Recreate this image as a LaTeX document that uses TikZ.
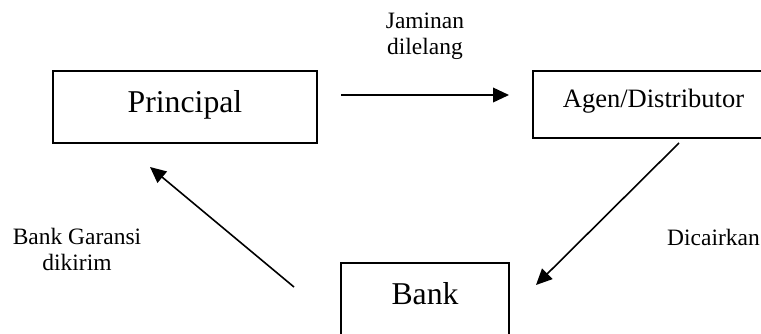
\documentclass[tikz,border=0pt]{standalone}
\usepackage{fontspec}
\setmainfont{Liberation Serif}
\usetikzlibrary{arrows.meta}
\tikzset{box/.style={draw, line width=1.2pt, inner sep=0pt, anchor=base}}
\tikzset{flow/.style={-{Triangle[length=12pt,width=11pt]}, line width=1.2pt}}
\tikzset{note/.style={font=\fontsize{17.6}{19}\selectfont, align=center, inner sep=0pt}}

\begin{document}
\begin{tikzpicture}[x=0.75pt, y=-0.75pt]
    \clip (0,0) rectangle (761,333);
    % the three parties
    \node[box, font=\fontsize{23.8}{28}\selectfont, minimum width=198pt,
          text height=30.75pt, text depth=23.25pt] (principal) at (185,112) {Principal};
    \node[box, font=\fontsize{19.9}{24}\selectfont, minimum width=180.75pt,
          text height=27pt, text depth=23.25pt] (agen) at (653.5,107) {Agen/Distributor};
    \node[box, font=\fontsize{23.8}{28}\selectfont, minimum width=126pt,
          text height=30.75pt, text depth=27pt] (bank) at (425,304) {Bank};

    % arrow ends
    \coordinate (jamin from) at (341,95);
    \coordinate (jamin to) at (509,95);
    \coordinate (cair from) at (679,143);
    \coordinate (cair to) at (536,285);
    \coordinate (kirim from) at (294,287);
    \coordinate (kirim to) at (150,167);
    \draw[flow] (jamin from) -- (jamin to);
    \draw[flow] (cair from) -- (cair to);
    \draw[flow] (kirim from) -- (kirim to);

    \node[note, anchor=base] (jaminan) at (425,54) {Jaminan\\dilelang};
    \node[note, anchor=base] (garansi) at (77,270) {Bank Garansi\\dikirim};
    \node[note, anchor=base east] (dicairkan) at (760,245) {Dicairkan};
\end{tikzpicture}
\end{document}
